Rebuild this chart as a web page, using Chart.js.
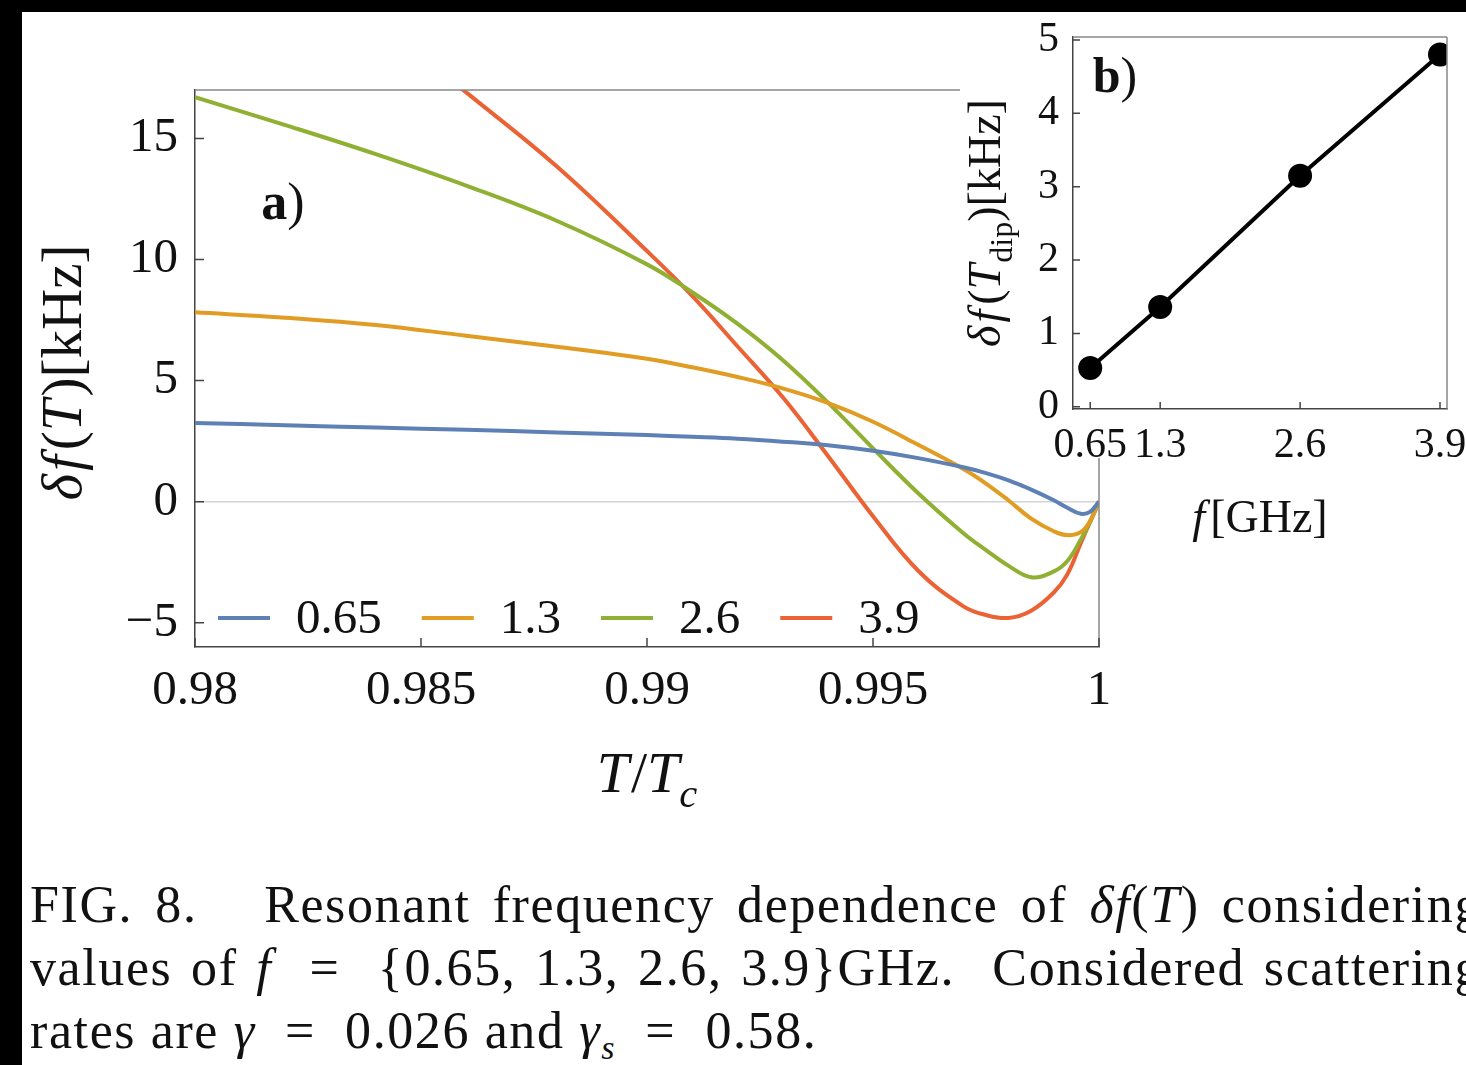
<!DOCTYPE html>
<html>
<head>
<meta charset="utf-8">
<script src="https://cdn.jsdelivr.net/npm/chart.js@4.4.1/dist/chart.umd.min.js"></script>
<style>
  body { margin: 0; width: 1466px; height: 1065px; overflow: hidden; background: #fff; position: relative; }
  #mainBox { position: absolute; left: 0; top: 0; }
  #insetBox { position: absolute; left: 960px; top: 12px; }
  .bar { position: absolute; background: #000; z-index: 5; }
  #caption { position: absolute; left: 30px; top: 873px; width: 1452px; font-family: "Liberation Serif", serif; font-size: 52px;
             line-height: 63px; color: #111; letter-spacing: 1.6px; }
  #caption div { white-space: nowrap; }
  #caption .just { text-align: justify; text-align-last: justify; }
  #caption i { font-style: italic; }
</style>
</head>
<body>
<div class="bar" style="left:0;top:0;width:1466px;height:12px"></div>
<div class="bar" style="left:0;top:0;width:22px;height:1065px"></div>

<div id="mainBox"><canvas id="main-chart" width="1466" height="850"></canvas></div>
<div id="insetBox"><canvas id="inset-chart" width="540" height="540"></canvas></div>

<div id="caption">
  <div class="just">FIG. 8.&nbsp;&nbsp; Resonant frequency dependence of <i>δf</i>(<i>T</i>) considering</div>
  <div class="just">values of <i>f</i>&nbsp; = &nbsp;{0.65,&nbsp;1.3,&nbsp;2.6,&nbsp;3.9}GHz.&nbsp; Considered scattering</div>
  <div>rates are <i>γ</i>&nbsp; = &nbsp;0.026 and <i>γ<sub style="font-size:34px">s</sub></i>&nbsp; = &nbsp;0.58.</div>
</div>

<script>
// temperature grid T/Tc
const temps = [0.98, 0.982, 0.984, 0.986, 0.988, 0.99, 0.991, 0.992, 0.993, 0.994, 0.995,
               0.996, 0.997, 0.9975, 0.998, 0.9985, 0.999, 0.9993, 0.9996, 0.9998, 1.0];

// delta f(T) in kHz, one list per frequency
const df065 = [3.25, 3.16, 3.06, 2.97, 2.86, 2.75, 2.68, 2.60, 2.48, 2.33, 2.10,
               1.80, 1.42, 1.18, 0.88, 0.50, 0.06, -0.25, -0.50, -0.42, 0];
const df13  = [7.82, 7.60, 7.30, 6.85, 6.40, 5.90, 5.55, 5.15, 4.68, 4.08, 3.30,
               2.35, 1.35, 0.75, 0.05, -0.70, -1.22, -1.38, -1.25, -0.80, 0];
const df26  = [16.7, 15.55, 14.35, 13.05, 11.6, 9.8, 8.65, 7.35, 5.85, 4.10, 2.20,
               0.35, -1.30, -2.00, -2.65, -3.12, -2.88, -2.45, -1.55, -0.85, 0];
const df39  = [null, null, 19.9, 16.9, 13.85, 10.35, 8.50, 6.42, 4.32, 1.90, -0.60,
               -2.85, -4.32, -4.68, -4.80, -4.50, -3.75, -3.00, -1.70, -0.85, 0];

const freqLabels = ['0.65', '1.3', '2.6', '3.9'];
const colors = ['#5E81B5', '#E19C24', '#8FB032', '#EB6235'];

const xTicks = [0.98, 0.985, 0.99, 0.995, 1.0];
const xTickLabels = ['0.98', '0.985', '0.99', '0.995', '1'];
const yTicks = [-5, 0, 5, 10, 15];
const yTickLabels = ['\u22125', '0', '5', '10', '15'];

// inset b): dip depth vs frequency
const insetFreq = [0.65, 1.3, 2.6, 3.9];
const insetDip = [0.53, 1.36, 3.15, 4.80];
const insetXTickLabels = ['0.65', '1.3', '2.6', '3.9'];
const insetYTicks = [0, 1, 2, 3, 4, 5];

const SERIF = '"Liberation Serif", "DejaVu Serif", serif';

// draws a line of text made of parts with italic / subscript styles
function drawRich(ctx, parts, x, y, size, angle) {
    const fontOf = p => (p.it ? 'italic ' : '') + (p.b ? 'bold ' : '') + (p.sub ? size * 0.7 : size) + 'px ' + SERIF;
    let total = 0;
    parts.forEach(p => { ctx.font = fontOf(p); total += ctx.measureText(p.t).width + (p.gap || 0); });
    ctx.save();
    ctx.translate(x, y);
    ctx.rotate(angle || 0);
    ctx.fillStyle = '#111';
    ctx.textBaseline = 'alphabetic';
    let cx = -total / 2;
    parts.forEach(p => {
        ctx.font = fontOf(p);
        ctx.fillText(p.t, cx, size * 0.33 + (p.sub ? size * 0.25 : 0));
        cx += ctx.measureText(p.t).width + (p.gap || 0);
    });
    ctx.restore();
}

// inner tick marks and the top/right frame lines
function frameTicks(tickLen, width) {
    return {
        id: 'frameTicks',
        afterDatasetsDraw(chart) {
            const ctx = chart.ctx;
            const a = chart.chartArea;
            const xs = chart.scales.x, ys = chart.scales.y;
            ctx.save();
            ctx.lineWidth = width;
            ctx.strokeStyle = '#888';
            ctx.beginPath();
            ctx.moveTo(a.left, a.top); ctx.lineTo(a.right, a.top);
            ctx.moveTo(a.right, a.top); ctx.lineTo(a.right, a.bottom);
            ctx.stroke();
            ctx.strokeStyle = '#444';
            ctx.beginPath();
            xs.ticks.forEach(t => {
                const px = xs.getPixelForValue(t.value);
                ctx.moveTo(px, a.bottom); ctx.lineTo(px, a.bottom - tickLen);
            });
            ys.ticks.forEach(t => {
                const py = ys.getPixelForValue(t.value);
                ctx.moveTo(a.left, py); ctx.lineTo(a.left + tickLen, py);
            });
            ctx.stroke();
            ctx.restore();
        }
    };
}

const mainDecor = {
    id: 'mainDecor',
    afterDraw(chart) {
        const ctx = chart.ctx;
        const a = chart.chartArea;
        // legend inside the plot
        ctx.save();
        ctx.font = '49px ' + SERIF;
        ctx.textBaseline = 'middle';
        let lx = a.left + 23;
        const ly = a.bottom - 29;
        chart.data.datasets.forEach(ds => {
            ctx.strokeStyle = ds.borderColor;
            ctx.lineWidth = 4;
            ctx.beginPath(); ctx.moveTo(lx, ly); ctx.lineTo(lx + 52, ly); ctx.stroke();
            lx += 52 + 26;
            ctx.fillStyle = '#111';
            ctx.fillText(ds.label, lx, ly + 2);
            lx += ctx.measureText(ds.label).width + 40;
        });
        ctx.restore();
        // panel label
        drawRich(ctx, [{ t: 'a', b: true }, { t: ')' }], a.left + 88, a.top + 112, 52, 0);
        // axis titles
        drawRich(ctx, [{ t: 'T', it: true, gap: 2 }, { t: '/' }, { t: 'T', it: true }, { t: 'c', it: true, sub: true }],
            (a.left + a.right) / 2, a.bottom + 126, 58, 0);
        drawRich(ctx, [{ t: 'δ', it: true, gap: 3 }, { t: 'f', it: true, gap: 5 }, { t: '(' }, { t: 'T', it: true, gap: 3 }, { t: ')' }, { t: '[kHz]' }],
            62, (a.top + a.bottom) / 2 + 4, 57, -Math.PI / 2);
    }
};

new Chart(document.querySelector('#main-chart').getContext('2d'), {
    type: 'line',
    data: {
        datasets: [df065, df13, df26, df39].map((vals, i) => ({
            label: freqLabels[i],
            data: temps.map((t, j) => ({ x: t, y: vals[j] })),
            borderColor: colors[i],
            borderWidth: 4,
            pointRadius: 0,
            tension: 0.4,
            fill: false
        }))
    },
    options: {
        responsive: false,
        animation: false,
        layout: { padding: { left: 0, top: 90, right: 367, bottom: 43 } },
        plugins: { legend: { display: false }, tooltip: { enabled: false } },
        scales: {
            x: {
                type: 'linear', min: 0.98, max: 1.0,
                afterBuildTicks: s => { s.ticks = xTicks.map(v => ({ value: v })); },
                afterFit: s => { s.height = 160; },
                ticks: {
                    callback: (v, i) => xTickLabels[i],
                    font: { family: SERIF, size: 49 }, color: '#111', padding: 15,
                    maxRotation: 0, autoSkip: false
                },
                grid: { display: false, drawTicks: false },
                border: { color: '#444', width: 1.5 }
            },
            y: {
                min: -6, max: 17,
                afterBuildTicks: s => { s.ticks = yTicks.map(v => ({ value: v })); },
                afterFit: s => { s.width = 195; },
                ticks: {
                    callback: (v, i) => yTickLabels[i],
                    font: { family: SERIF, size: 49 }, color: '#111', padding: 17
                },
                grid: {
                    drawTicks: false,
                    color: c => (c.tick && c.tick.value === 0) ? '#d4d4d4' : 'rgba(0,0,0,0)',
                    lineWidth: 1.5
                },
                border: { color: '#444', width: 1.5 }
            }
        }
    },
    plugins: [frameTicks(9, 1.5), mainDecor]
});

const insetDecor = {
    id: 'insetDecor',
    beforeDraw(chart) {
        const ctx = chart.ctx;
        ctx.save();
        ctx.fillStyle = '#fff';
        ctx.fillRect(0, 0, chart.width, 446);
        ctx.restore();
    },
    afterDraw(chart) {
        const ctx = chart.ctx;
        const a = chart.chartArea;
        drawRich(ctx, [{ t: 'b', b: true }, { t: ')' }], a.left + 42, a.top + 38, 50, 0);
        drawRich(ctx, [{ t: 'f', it: true, gap: 5 }, { t: '[GHz]' }], (a.left + a.right) / 2, a.bottom + 108, 46, 0);
        drawRich(ctx, [{ t: 'δ', it: true, gap: 3 }, { t: 'f', it: true, gap: 5 }, { t: '(' }, { t: 'T', it: true, gap: 1 },
                       { t: 'dip', sub: true }, { t: ')' }, { t: '[kHz]' }],
            25, (a.top + a.bottom) / 2, 46, -Math.PI / 2);
    }
};

new Chart(document.querySelector('#inset-chart').getContext('2d'), {
    type: 'line',
    data: {
        datasets: [{
            label: 'dip',
            data: insetFreq.map((f, i) => ({ x: f, y: insetDip[i] })),
            borderColor: '#000',
            backgroundColor: '#000',
            borderWidth: 4,
            pointRadius: 10,
            pointBackgroundColor: '#000',
            tension: 0
        }]
    },
    options: {
        responsive: false,
        animation: false,
        layout: { padding: { left: 0, top: 25, right: 53, bottom: 11 } },
        plugins: { legend: { display: false }, tooltip: { enabled: false } },
        scales: {
            x: {
                type: 'linear', min: 0.49, max: 3.965,
                afterBuildTicks: s => { s.ticks = insetFreq.map(v => ({ value: v })); },
                afterFit: s => { s.height = 132; },
                ticks: {
                    callback: (v, i) => insetXTickLabels[i],
                    font: { family: SERIF, size: 42 }, color: '#111', padding: 12,
                    maxRotation: 0, autoSkip: false
                },
                grid: { display: false, drawTicks: false },
                border: { color: '#444', width: 1.5 }
            },
            y: {
                min: -0.03, max: 5.04,
                afterBuildTicks: s => { s.ticks = insetYTicks.map(v => ({ value: v })); },
                afterFit: s => { s.width = 113; },
                ticks: {
                    callback: v => String(v),
                    font: { family: SERIF, size: 42, lineHeight: 0.4 }, color: '#111', padding: 14
                },
                grid: { display: false, drawTicks: false },
                border: { color: '#444', width: 1.5 }
            }
        }
    },
    plugins: [frameTicks(7, 1.5), insetDecor]
});
</script>
</body>
</html>
